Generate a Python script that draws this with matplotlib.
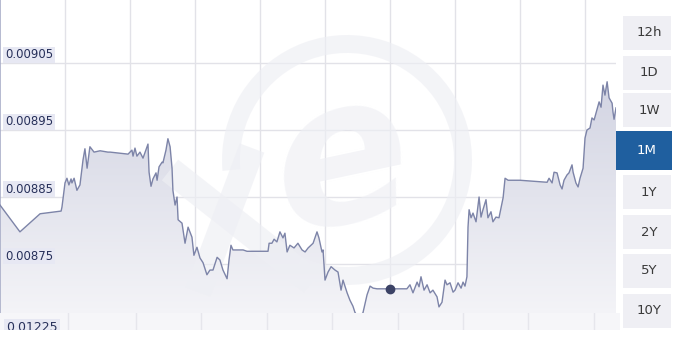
import matplotlib.pyplot as plt
import numpy as np
from matplotlib.patches import Rectangle, Wedge
from matplotlib.path import Path
from matplotlib.patches import PathPatch

# days since start of the 1M window, and the rate at that time
days = [0.00, 0.92, 1.85, 2.82, 2.86, 3.00, 3.09, 3.18, 3.28, 3.32, 3.42, 3.55, 3.69, 3.83, 3.92,
        4.02, 4.15, 4.34, 4.62, 4.98, 5.08, 5.91, 6.09, 6.14, 6.23, 6.32, 6.46, 6.60, 6.83, 6.88,
        6.97, 7.06, 7.20, 7.25, 7.34, 7.48, 7.52, 7.66, 7.75, 7.85, 7.94, 7.98, 8.08, 8.17, 8.22,
        8.40, 8.54, 8.68, 8.86, 8.95, 9.09, 9.23, 9.37, 9.55, 9.69, 9.83, 10.02, 10.15, 10.29, 10.48,
        10.57, 10.66, 10.75, 11.22, 11.40, 12.37, 12.42, 12.55, 12.65, 12.78, 12.92, 13.06, 13.15,
        13.25, 13.38, 13.57, 13.75, 13.94, 14.08, 14.22, 14.45, 14.63, 14.72, 14.86, 14.91, 15.00,
        15.14, 15.28, 15.46, 15.60, 15.74, 15.83, 16.02, 16.15, 16.29, 16.38, 16.52, 16.75, 16.94,
        17.08, 17.22, 17.40, 18.00, 18.78, 18.92, 19.06, 19.25, 19.34, 19.43, 19.57, 19.71, 19.85,
        19.98, 20.17, 20.26, 20.40, 20.54, 20.63, 20.77, 20.91, 21.00, 21.14, 21.28, 21.37, 21.46,
        21.55, 21.60, 21.65, 21.74, 21.83, 21.97, 22.11, 22.20, 22.29, 22.43, 22.52, 22.66, 22.75,
        22.89, 23.03, 23.22, 23.31, 23.45, 24.00, 25.25, 25.34, 25.48, 25.57, 25.71, 25.85, 25.94,
        26.03, 26.17, 26.26, 26.40, 26.45, 26.58, 26.68, 26.77, 26.91, 27.00, 27.09, 27.23, 27.32,
        27.42, 27.55, 27.65, 27.74, 27.83, 27.92, 28.02, 28.11, 28.25, 28.29, 28.34, 28.43]

rate = [0.008838, 0.008798, 0.008825, 0.008829, 0.008835, 0.008871, 0.008878, 0.008868, 0.008877,
        0.008871, 0.008878, 0.008860, 0.008868, 0.008905, 0.008922, 0.008893, 0.008925, 0.008917,
        0.008919, 0.008917, 0.008917, 0.008914, 0.008920, 0.008911, 0.008923, 0.008911, 0.008917,
        0.008908, 0.008929, 0.008887, 0.008866, 0.008877, 0.008886, 0.008875, 0.008895, 0.008902,
        0.008901, 0.008920, 0.008937, 0.008925, 0.008893, 0.008860, 0.008838, 0.008850, 0.008816,
        0.008811, 0.008781, 0.008805, 0.008790, 0.008763, 0.008775, 0.008759, 0.008752, 0.008734,
        0.008741, 0.008741, 0.008760, 0.008756, 0.008741, 0.008728, 0.008756, 0.008778, 0.008771,
        0.008771, 0.008769, 0.008769, 0.008781, 0.008781, 0.008787, 0.008783, 0.008798, 0.008789,
        0.008796, 0.008768, 0.008778, 0.008774, 0.008781, 0.008771, 0.008768, 0.008774, 0.008781,
        0.008798, 0.008789, 0.008768, 0.008771, 0.008726, 0.008738, 0.008746, 0.008741, 0.008738,
        0.008711, 0.008726, 0.008707, 0.008696, 0.008687, 0.008678, 0.008671, 0.008677, 0.008704,
        0.008717, 0.008714, 0.008713, 0.008713, 0.008713, 0.008719, 0.008707, 0.008723, 0.008716,
        0.008731, 0.008711, 0.008719, 0.008707, 0.008711, 0.008701, 0.008686, 0.008693, 0.008726,
        0.008719, 0.008722, 0.008708, 0.008711, 0.008722, 0.008714, 0.008723, 0.008717, 0.008731,
        0.008805, 0.008831, 0.008819, 0.008826, 0.008813, 0.008850, 0.008820, 0.008831, 0.008846,
        0.008819, 0.008828, 0.008813, 0.008820, 0.008819, 0.008849, 0.008878, 0.008875, 0.008875,
        0.008872, 0.008878, 0.008871, 0.008887, 0.008886, 0.008868, 0.008862, 0.008875, 0.008883,
        0.008886, 0.008898, 0.008887, 0.008871, 0.008865, 0.008878, 0.008893, 0.008938, 0.008950,
        0.008953, 0.008968, 0.008965, 0.008980, 0.008992, 0.008984, 0.009017, 0.009002, 0.009022,
        0.008998, 0.008990, 0.008977, 0.008966, 0.008983]

hover_day = 18.00
hover_rate = 0.008713

y_ticks = [0.00875, 0.00885, 0.00895, 0.00905]
y_labels = ['0.00875', '0.00885', '0.00895', '0.00905']
x_grid = [3, 6, 9, 12, 15, 18, 21, 24, 27]
nav_label = '0.01225'
nav_grid = [3.14, 6.23, 9.23, 12.23, 15.23, 18.23, 21.23, 24.23, 27.23]
ranges = ['12h', '1D', '1W', '1M', '1Y', '2Y', '5Y', '10Y']
active = '1M'

W, H = 676, 350
fig = plt.figure(figsize=(W / 100, H / 100), dpi=100)
fig.patch.set_facecolor('white')

ax = fig.add_axes([0, 37 / H, 616 / W, 313 / H])
ax.set_xlim(0, 28.43)
ax.set_ylim(0.0086769, 0.0091440)
ax.set_facecolor('white')
for s in ['top', 'right', 'bottom']:
    ax.spines[s].set_visible(False)
ax.spines['left'].set_color('#a9aec8')
ax.spines['left'].set_linewidth(1.2)
ax.set_xticks(x_grid)
ax.set_yticks(y_ticks)
ax.tick_params(length=0, labelleft=False, labelbottom=False)
ax.grid(True, color='#e2e2e8', linewidth=1.0, zorder=0)
ax.set_axisbelow(True)

# gradient area under the line
x = np.array(days)
y = np.array(rate)
y0 = ax.get_ylim()[0]
verts = [(x[0], y0)] + list(zip(x, y)) + [(x[-1], y0)]
clip = PathPatch(Path(verts), facecolor='none', edgecolor='none', transform=ax.transData)
ax.add_patch(clip)
grad = np.linspace(1, 0, 256).reshape(-1, 1)
top = np.array([0.78, 0.79, 0.86])
bot = np.array([0.955, 0.955, 0.97])
img = top * grad[..., None] + bot * (1 - grad[..., None])
im = ax.imshow(img, extent=[0, 28.43, y0, ax.get_ylim()[1]], aspect='auto',
               origin='upper', zorder=1)
im.set_clip_path(clip)


# faint xe watermark, drawn in pixel units so it stays round
def px(xp, yp):
    return (xp / 100, (H - yp) / 100)


tr = fig.dpi_scale_trans
wm = dict(color='#eeeff4', alpha=0.65, zorder=2)
ax.add_patch(Wedge(px(347, 160), 1.25, 245, 185, width=0.18, transform=tr,
                   facecolor=wm['color'], alpha=wm['alpha'], edgecolor='none', zorder=2))
ax.plot(*zip(px(170, 170), px(312, 282)), transform=tr, linewidth=19,
        solid_capstyle='butt', **wm)
ax.plot(*zip(px(252, 148), px(198, 292)), transform=tr, linewidth=19,
        solid_capstyle='butt', **wm)
ax.text(*px(342, 165), 'e', transform=tr, fontsize=145, fontweight='bold',
        fontstyle='italic', color=wm['color'], alpha=wm['alpha'], ha='center',
        va='center', rotation=12, zorder=2)

ax.plot(x, y, color='#7d84a8', linewidth=1.0, zorder=3)
ax.plot([hover_day], [hover_rate], 'o', color='#3c4366', markersize=6, zorder=4)

for v, lab in zip(y_ticks, y_labels):
    ax.annotate(lab, xy=(0, v), xycoords=('axes fraction', 'data'), xytext=(5, 8),
                textcoords='offset pixels', fontsize=8.5, color='#27305a', va='center',
                ha='left', zorder=5,
                bbox=dict(boxstyle='square,pad=0.15', facecolor='#e7e8f3', edgecolor='none'))

# navigator strip at the bottom
nav = fig.add_axes([0, 20 / H, 620 / W, 17 / H])
nav.set_xlim(0, 28.43)
nav.set_ylim(0, 1)
nav.set_facecolor('#f6f6f9')
for s in nav.spines.values():
    s.set_visible(False)
nav.set_xticks(nav_grid)
nav.set_yticks([])
nav.tick_params(length=0, labelbottom=False)
nav.grid(True, axis='x', color='#e6e6ec', linewidth=1.0)
nav.text(0.01, 0.12, nav_label, transform=nav.transAxes, fontsize=9, color='#27305a',
         va='center', ha='left', clip_on=True,
         bbox=dict(boxstyle='square,pad=0.2', facecolor='#e7e8f3', edgecolor='none'))

# range buttons
tops = [16, 56, 93, 131, 175, 215, 254, 294]
for lab, t in zip(ranges, tops):
    if lab == active:
        x0, w, h, fc, tc = 616, 56, 39, '#1f5f9f', 'white'
    else:
        x0, w, h, fc, tc = 623, 48, 34, '#efeff4', '#3a3a3a'
    fig.patches.append(Rectangle((x0 / W, 1 - (t + h) / H), w / W, h / H,
                                 transform=fig.transFigure, facecolor=fc,
                                 edgecolor='none'))
    fig.text((x0 + w / 2 + 2) / W, 1 - (t + h / 2) / H, lab, fontsize=9.5, color=tc,
             ha='center', va='center')

fig.savefig('out.png', dpi=100)
